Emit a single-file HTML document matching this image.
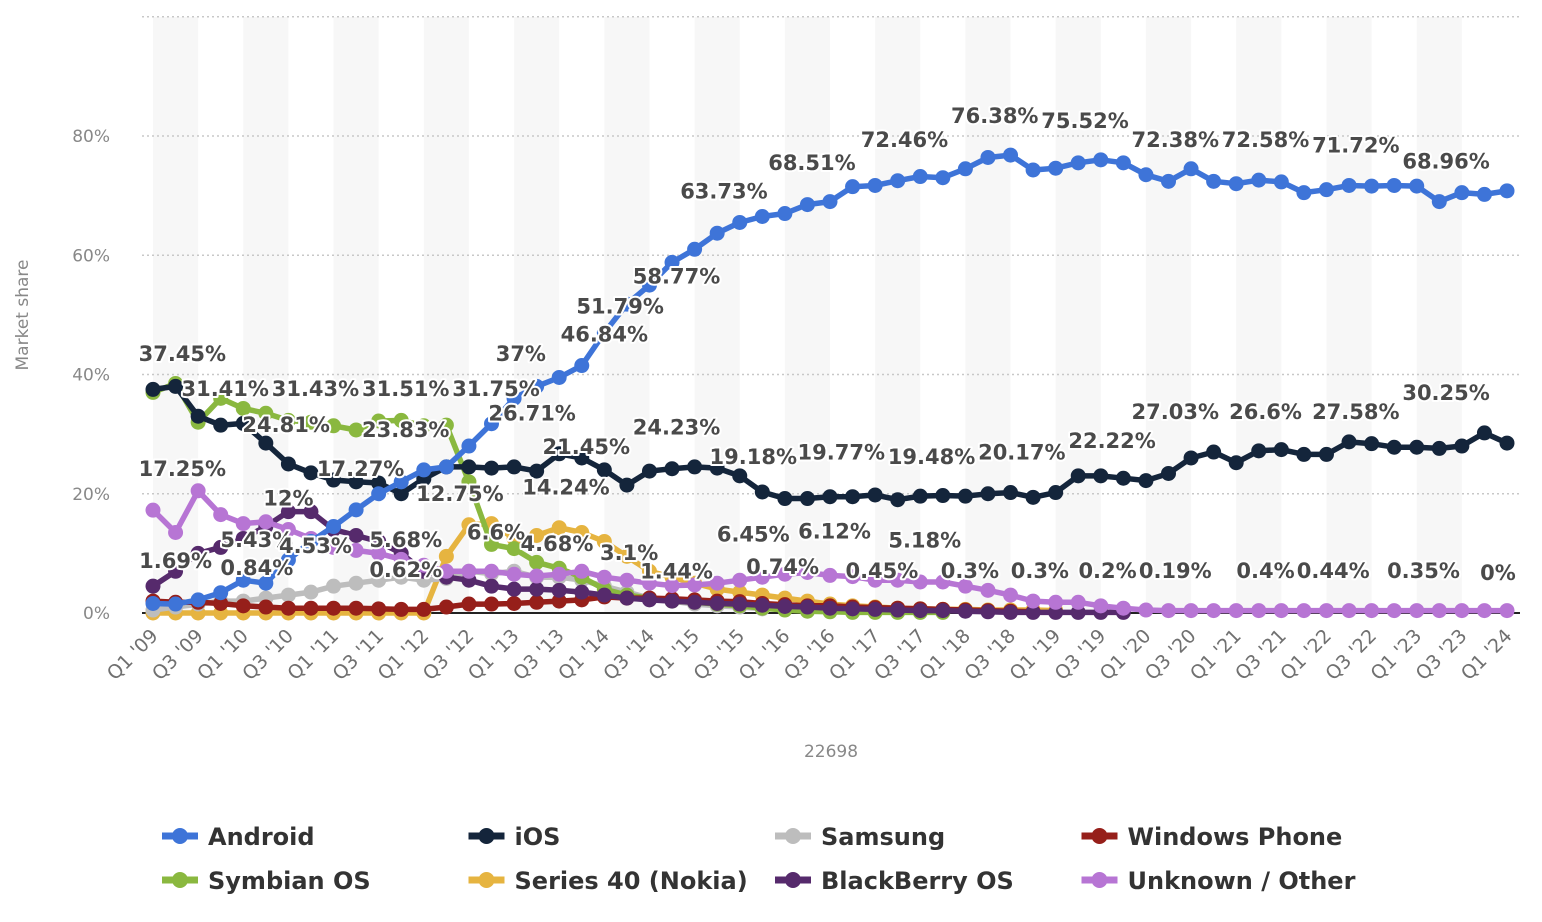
<!DOCTYPE html>
<html><head><meta charset="utf-8"><style>
html,body{margin:0;padding:0;background:#fff;}
svg{display:block;font-family:"DejaVu Sans","Liberation Sans",sans-serif;}
.lbl{font-weight:bold;font-size:21px;fill:#4a4a4a;stroke:#fff;stroke-width:4px;paint-order:stroke;stroke-linejoin:round;}
.tick{font-size:17px;fill:#888;}
.leg{font-weight:bold;font-size:24px;fill:#333;}
</style></head><body>
<svg id="chart" width="1542" height="922" viewBox="0 0 1542 922" xmlns="http://www.w3.org/2000/svg">
<g id="bands"></g>
<g id="grid"></g>
<g id="series"></g>
<g id="labels"></g>
<g id="xaxis"></g>
<text x="28" y="315" transform="rotate(-90 28 315)" text-anchor="middle" class="tick">Market share</text>
<text x="831" y="757" text-anchor="middle" class="tick">22698</text>
<g id="legend"></g>
</svg>
<script>
const yTicks=[0,20,40,60,80,100];
const yTickLabels=["0%","20%","40%","60%","80%",""];
const android=[1.6,1.5,2.2,3.4,5.5,5.0,8.9,12,14.5,17.3,20,22,24,24.5,28,31.75,36,38,39.5,41.5,47,51.8,55,58.8,61,63.7,65.5,66.5,67,68.5,69,71.5,71.7,72.5,73.2,73,74.5,76.4,76.8,74.3,74.6,75.5,76,75.5,73.5,72.4,74.5,72.4,72,72.6,72.3,70.5,71,71.7,71.6,71.7,71.6,69,70.5,70.2,70.8];
const ios=[37.5,38,33,31.5,31.8,28.5,25,23.5,22.3,22,21.8,20,22.5,24.5,24.5,24.3,24.5,23.8,26.7,26,24,21.45,23.8,24.2,24.5,24.3,23,20.3,19.2,19.2,19.5,19.5,19.8,19,19.6,19.7,19.6,20,20.2,19.4,20.2,23,23,22.6,22.2,23.4,26,27,25.2,27.2,27.4,26.6,26.6,28.7,28.4,27.8,27.8,27.6,28,30.2,28.5];
const samsung=[0.5,1,1.5,2,2,2.5,3,3.5,4.5,5,5.5,6,5.5,5.8,7,6.6,7,6,6,5.5,4.5,3.5,2.5,2,1.5,1.2,1,0.7,null];
const windowsPhone=[2,1.8,1.8,1.6,1.2,1,0.8,0.8,0.8,0.8,0.7,0.6,0.6,1,1.5,1.5,1.6,1.8,2,2.2,2.7,2.5,2.5,2.4,2.2,2,1.9,1.6,1.4,1.2,1.2,1,0.9,0.8,0.7,0.6,0.5,0.4,0.3,0.2,null];
const symbian=[37,38.5,32,36,34.3,33.5,32.3,32,31.4,30.7,32.2,32.3,31.4,31.5,22,11.5,10.8,8.5,7.5,6,4,3,2.5,2,1.8,1.5,1.2,0.8,0.5,0.3,0.2,0.1,0.1,0.1,0.1,0.1,null];
const series40=[0,0,0,0,0,0,0,0,0,0,0,0,0,9.5,14.8,15,12.5,13,14.3,13.5,12,9.5,7,6,5,4,3.5,3,2.5,2,1.5,1.2,1,0.8,0.7,0.6,0.6,0.5,0.5,0.5,0.4,null];
const blackberry=[4.5,7,10,11,12.5,14.5,17,17,14,13,12,10,7,6,5.5,4.5,4,4,3.8,3.5,3,2.5,2.2,2,1.8,1.6,1.5,1.3,1.1,1,0.8,0.7,0.6,0.5,0.4,0.4,0.3,0.2,0.1,0.1,0.1,0.1,0.1,0.1,null];
const other=[17.25,13.5,20.5,16.5,15,15.3,14,12.5,11,10.5,10,9,8,7,7,7,6.5,6.2,6.5,7,6,5.5,5,4.6,4.7,5,5.5,6,6.5,6.8,6.3,6.1,5.5,5.5,5.2,5.2,4.5,3.8,3,2,1.8,1.8,1.2,0.8,0.5,0.4,0.4,0.4,0.4,0.4,0.4,0.4,0.4,0.4,0.4,0.4,0.4,0.4,0.4,0.4,0.4];
const seriesNames=["Android","iOS","Samsung","Windows Phone","Symbian OS","Series 40 (Nokia)","BlackBerry OS","Unknown / Other"];
const seriesColors=["#3e74d8","#14253b","#bdbdbd","#961f1a","#8ab83f","#e6b440","#562a6c","#b775d4"];
const labelTexts=["37.45%","31.41%","31.43%","31.51%","31.75%","37%","17.25%","24.81%","23.83%","26.71%","21.45%","24.23%","17.27%","12%","12.75%","14.24%","5.43%","4.53%","5.68%","6.6%","4.68%","3.1%","1.44%","1.69%","0.84%","0.62%","46.84%","51.79%","58.77%","63.73%","68.51%","72.46%","76.38%","75.52%","72.38%","72.58%","71.72%","68.96%","19.18%","19.77%","19.48%","20.17%","22.22%","27.03%","26.6%","27.58%","30.25%","6.45%","6.12%","5.18%","0.74%","0.45%","0.3%","0.3%","0.2%","0.19%","0.4%","0.44%","0.35%","0%"];
const labelIdx=[1.3,3.2,7.2,11.2,15.2,16.3,1.3,5.9,11.2,16.8,19.2,23.2,9.2,6,13.6,18.3,4.6,7.2,11.2,15.2,17.9,21.1,23.2,1,4.6,11.2,20,20.7,23.2,25.3,29.2,33.3,37.3,41.3,45.3,49.3,53.3,57.3,26.6,30.5,34.5,38.5,42.5,45.3,49.3,53.3,57.3,26.6,30.2,34.2,27.9,32.3,36.2,39.3,42.3,45.3,49.3,52.3,56.3,59.6];
const labelPos=[43.6,37.7,37.7,37.7,37.7,43.6,24.3,31.7,30.9,33.6,28,31.3,24.3,19.4,20.1,21.2,12.4,11.4,12.4,13.7,11.7,10.2,7.1,8.9,7.7,7.4,46.9,51.6,56.6,70.9,75.6,79.5,83.5,82.7,79.5,79.5,78.6,75.9,26.3,27.1,26.3,27.1,29,33.9,33.9,33.9,37.1,13.3,13.8,12.3,7.9,7.2,7.2,7.2,7.2,7.2,7.2,7.2,7.2,6.9];
const xLabels=[];
for(let y=9;y<=24;y++){const yy=(y<10?"0":"")+y;xLabels.push("Q1 '"+yy);if(y<24)xLabels.push("Q3 '"+yy);}
const NS="http://www.w3.org/2000/svg";
const X0=153,STEP=(1507-153)/60;
const xs=i=>X0+i*STEP;
const ys=v=>613-v*(477/80);
function mk(tag,attrs,parent){const e=document.createElementNS(NS,tag);for(const k in attrs)e.setAttribute(k,attrs[k]);parent.appendChild(e);return e;}
const bands=document.getElementById('bands');
for(let i=0;i<60;i+=4){
 const r=mk('rect',{x:xs(i),y:17,width:STEP*2,height:596,fill:'#f7f7f7'},bands);
 
 
}
const grid=document.getElementById('grid');
yTicks.forEach((t,k)=>{
 if(t>0){const l=mk('line',{x1:142,x2:1520,y1:ys(t),y2:ys(t),stroke:'#c8c8c8','stroke-width':1.5,'stroke-dasharray':'2 3'},grid);
 
 }
 const tx=mk('text',{x:110,y:ys(t)+6,'text-anchor':'end',class:'tick'},grid);
 tx.textContent=yTickLabels[k];
 
 
});
const base=mk('line',{x1:142,x2:1520,y1:613,y2:613,stroke:'#222','stroke-width':2},grid);


const allSeries=[android,ios,samsung,windowsPhone,symbian,series40,blackberry,other];
const drawOrder=[5,2,4,3,6,7,1,0];
const sg=document.getElementById('series');
drawOrder.forEach(s=>{
 const data=allSeries[s];const g=mk('g',{},sg);
 
 
 let d='';let started=false;
 data.forEach((v,i)=>{if(v===null||v===undefined){started=false;return;}d+=(started?'L':'M')+xs(i).toFixed(1)+' '+ys(v).toFixed(1)+' ';started=true;});
 const p=mk('path',{d:d,fill:'none',stroke:seriesColors[s],'stroke-width':5.5,'stroke-linejoin':'round'},g);
 
 
 data.forEach((v,i)=>{
  if(v===null||v===undefined)return;
  const c=mk('circle',{cx:xs(i),cy:ys(v),r:7.5,fill:seriesColors[s]},g);
  
  
 });
});
const lg=document.getElementById('labels');
labelTexts.forEach((t,k)=>{
 const e=mk('text',{x:xs(labelIdx[k]),y:ys(labelPos[k])+8,'text-anchor':'middle',class:'lbl'},lg);
 e.textContent=t;
 
 
});
const xa=document.getElementById('xaxis');
xLabels.forEach((t,k)=>{
 const x=xs(k*2)+6,y=637;
 const e=mk('text',{x:x,y:y,'text-anchor':'end',class:'tick',transform:'rotate(-45 '+x+' '+y+')'},xa);
 e.style.fontSize='19px';
 e.style.fill='#707070';
 e.textContent=t;
 
 
});
const leg=document.getElementById('legend');
const legOrder=[0,1,2,3,4,5,6,7];
legOrder.forEach((s,k)=>{
 const col=k%4,row=Math.floor(k/4);
 const x=162+col*306.5,y=836+row*44;
 const g=mk('g',{},leg);
 
 
 mk('line',{x1:x,x2:x+36,y1:y,y2:y,stroke:seriesColors[s],'stroke-width':7},g);
 mk('circle',{cx:x+18,cy:y,r:8,fill:seriesColors[s]},g);
 const tx=mk('text',{x:x+46,y:y+9,class:'leg'},g);
 tx.textContent=seriesNames[s];
});
</script>
</body></html>
